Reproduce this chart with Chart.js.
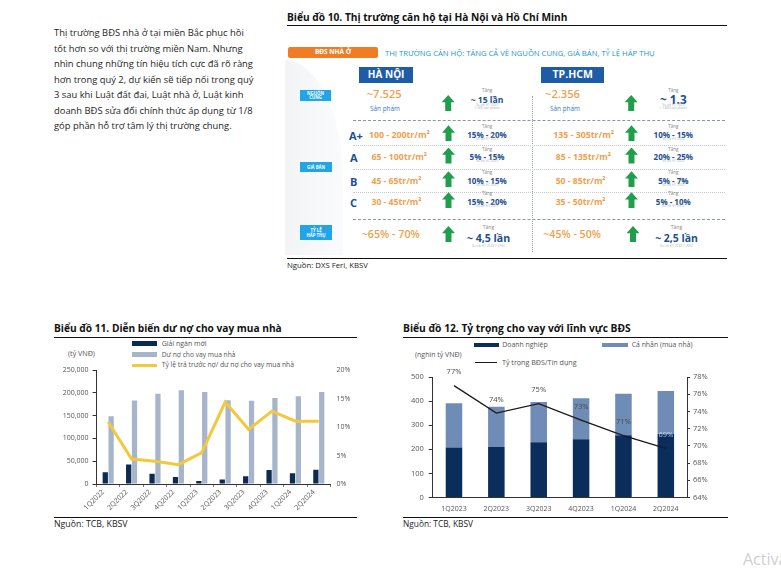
<!DOCTYPE html>
<html><head><meta charset="utf-8">
<script src="https://cdn.jsdelivr.net/npm/chart.js@4.4.1/dist/chart.umd.min.js"></script>
<style>
html,body{margin:0;padding:0;width:781px;height:576px;overflow:hidden;background:#fff;font-family:'Open Sans',sans-serif;color:#222;}
.a,.t,.tc{position:absolute;white-space:nowrap;line-height:1;}
.t{transform:translateY(-50%);}
.tc{transform:translate(-50%,-50%);text-align:center;}
.hr{position:absolute;height:0;}
.box{position:absolute;display:flex;align-items:center;justify-content:center;color:#fff;font-weight:700;text-align:center;line-height:1.05;}
.arrow{position:absolute;width:13px;height:16px;background:#1F9E4B;clip-path:polygon(50% 0,100% 46%,73% 46%,73% 100%,27% 100%,27% 46%,0 46%);}
canvas{position:absolute;}
</style></head>
<body>
<div id="root"></div>
<canvas id="c11" width="310" height="160" style="left:54px;top:360px;width:310px;height:160px"></canvas>
<canvas id="c12" width="320" height="160" style="left:403px;top:360px;width:320px;height:160px"></canvas>
<script>
// ---------- DATA ----------
// Chart 10 (infographic)
const segments = ['A+','A','B','C'];
const hnPrice = ['100 - 200tr/m²','65 - 100tr/m²','45 - 65tr/m²','30 - 45tr/m²'];
const hnPriceUp = ['15% - 20%','5% - 15%','10% - 15%','15% - 20%'];
const hcmPrice = ['135 - 305tr/m²','85 - 135tr/m²','50 - 85tr/m²','35 - 50tr/m²'];
const hcmPriceUp = ['10% - 15%','20% - 25%','5% - 7%','5% - 10%'];
const supply = ['~7.525','~2.356'];
const supplyUp = ['~ 15 lần','~ 1.3'];
const supplyNote = ['(~500 sản phẩm)','(~1.800 sản phẩm)'];
const absorb = ['~65% - 70%','~45% - 50%'];
const absorbUp = ['~ 4,5 lần','~ 2,5 lần'];
const absorbNote = ['So với H1 2023 (~15%)','So với H1 2023 (~20%)'];
// Chart 11
const q11 = ['1Q2022','2Q2022','3Q2022','4Q2022','1Q2023','2Q2023','3Q2023','4Q2023','1Q2024','2Q2024'];
const giaiNganMoi = [25600,43000,22600,15400,6600,10000,17000,30700,23400,31400];
const duNoMuaNha = [149000,183500,198000,206000,202000,184000,183000,189000,193000,202000];
const tyLeTraTruoc = [10.9,4.4,4.0,3.4,5.5,14.4,9.6,12.8,11.05,11.05];
// Chart 12
const q12 = ['1Q2023','2Q2023','3Q2023','4Q2023','1Q2024','2Q2024'];
const doanhNghiep = [207,210,229,242,258,264];
const caNhan = [184,167,167,170,172,178];
const tyTrongBDS = [77.0,73.8,74.9,73.0,71.2,69.7];
const tyTrongLabels = ['77%','74%','75%','73%','71%','69%'];

// ---------- PAGE LAYOUT ----------
const F = "'Open Sans', sans-serif";
const root = document.getElementById('root');
function el(cls, txt, x, y, o){
  o = o||{};
  const d = document.createElement('div');
  d.className = cls; d.textContent = txt;
  d.style.left = x+'px'; d.style.top = y+'px';
  d.style.fontSize = (o.fs||8)+'px';
  if(o.color) d.style.color = o.color;
  if(o.weight) d.style.fontWeight = o.weight;
  if(o.w) d.dataset.w = o.w;
  root.appendChild(d); return d;
}
function hr(x1,x2,y,style){
  const d=document.createElement('div'); d.className='hr';
  d.style.left=x1+'px'; d.style.width=(x2-x1)+'px'; d.style.top=y+'px';
  d.style.borderTop=style||'1px solid #111'; root.appendChild(d); return d;
}
function vr(x,y1,y2,style){
  const d=document.createElement('div'); d.style.position='absolute';
  d.style.left=x+'px'; d.style.top=y1+'px'; d.style.height=(y2-y1)+'px'; d.style.width='0';
  d.style.borderLeft=style; root.appendChild(d);
}
function box(txt,x,y,w,h,bg,fs){
  const d=document.createElement('div'); d.className='box';
  Object.assign(d.style,{left:x+'px',top:y+'px',width:w+'px',height:h+'px',background:bg,fontSize:fs+'px'});
  d.innerHTML=txt; root.appendChild(d); return d;
}
function arrow(x,y){const d=document.createElement('div');d.className='arrow';d.style.left=x+'px';d.style.top=y+'px';root.appendChild(d);}

// body text
const bodyLines = ['Thị trường BĐS nhà ở tại miền Bắc phục hồi','tốt hơn so với thị trường miền Nam. Nhưng','nhìn chung những tín hiệu tích cực đã rõ ràng','hơn trong quý 2, dự kiến sẽ tiếp nối trong quý','3 sau khi Luật đất đai, Luật nhà ở, Luật kinh','doanh BĐS sửa đổi chính thức áp dụng từ 1/8','góp phần hỗ trợ tâm lý thị trường chung.'];
const bodyEls = bodyLines.map((s,i)=>el('t body',s,54,33.3+i*15.45,{fs:10,color:'#1e1e1e'}));
bodyEls[0].dataset.w=190;

// titles and rules
el('t','Biểu đồ 10. Thị trường căn hộ tại Hà Nội và Hồ Chí Minh',287,16.7,{fs:11,weight:700,w:281,color:'#111'});
hr(287,727,25);
hr(287,727,257.5);
el('t','Nguồn: DXS Feri, KBSV',287,266,{fs:8,w:81,color:'#222'});

el('t','Biểu đồ 11. Diễn biến dư nợ cho vay mua nhà',54,328.3,{fs:11,weight:700,w:228,color:'#111'});
hr(54,357,336.5);
hr(54,357,517);
el('t','Nguồn: TCB, KBSV',54,524,{fs:8,w:73.7,color:'#222'});

el('t','Biểu đồ 12. Tỷ trọng cho vay với lĩnh vực BĐS',403,328.3,{fs:11,weight:700,w:228,color:'#111'});
hr(403,728,336.5);
hr(403,728,517);
el('t','Nguồn: TCB, KBSV',403,524,{fs:8,w:70,color:'#222'});

// chart 11 legend
const sw=(x,y,w,h,c)=>{const d=document.createElement('div');Object.assign(d.style,{position:'absolute',left:x+'px',top:y+'px',width:w+'px',height:h+'px',background:c});root.appendChild(d);};
el('t','(tỷ VNĐ)',68,354.3,{fs:7,w:27,color:'#555'});
sw(131.7,340.5,25,5,'#0C2A52'); el('t','Giải ngân mới',161.7,342.7,{fs:7,w:45,color:'#555'});
sw(131.7,352.3,25,4.5,'#A7B5CB'); el('t','Dư nợ cho vay mua nhà',161.7,354.5,{fs:7,w:74,color:'#555'});
sw(131.7,363.5,25,3,'#F3C83A'); el('t','Tỷ lệ trả trước nợ/ dư nợ cho vay mua nhà',161.7,365,{fs:7,w:132.6,color:'#555'});

// chart 12 legend
el('t','(nghìn tỷ VNĐ)',415,354.3,{fs:7,w:46.7,color:'#555'});
sw(474.3,342.7,24.7,4.6,'#0B2D5C'); el('t','Doanh nghiệp',502.3,345,{fs:7,w:45.4,color:'#555'});
sw(602.3,342.7,26,4.6,'#6F8CB6'); el('t','Cá nhân (mua nhà)',631.7,345,{fs:7,w:61,color:'#555'});
sw(475,362,21.7,1.4,'#1b1b1b'); el('t','Tỷ trọng BĐS/Tín dụng',502,362.7,{fs:7,w:74.7,color:'#555'});

// ---------- CHART 10 INFOGRAPHIC ----------
(function(){
  const bg=document.createElement('div');
  Object.assign(bg.style,{position:'absolute',left:'285px',top:'60px',width:'58px',height:'195px',background:'linear-gradient(90deg,#f3f4f6,#fafbfc)',borderTopRightRadius:'58px 120px'});
  root.appendChild(bg);
  const ORANGE='#EF9F4E', NAVY='#1D4F91', BLUE='#22A5E6', NOTE='#a9b0b8';
  box('BĐS NHÀ Ở',288,46.7,90,11.6,'#F07D23',6.5).style.borderRadius='2px';
  el('t','THỊ TRƯỜNG CĂN HỘ: TĂNG CẢ VỀ NGUỒN CUNG, GIÁ BÁN, TỶ LỆ HẤP THỤ',385,54,{fs:6,w:270,color:'#2196D3'});
  box('HÀ NỘI',359,66.7,54.3,16,'#1E5CA8',10);
  box('TP.HCM',541,66.7,63.3,16,'#1E5CA8',10.5);
  box('NGUỒN<br>CUNG',300,90,31,10.7,BLUE,4.3);
  box('GIÁ BÁN',300,161.7,32,10.6,BLUE,4.3);
  box('TỶ LỆ<br>HẤP THỤ',300,225,32,15,BLUE,4.3);
  const cols=[{price:369,arrow:442,inc:487},{price:553,arrow:625,inc:673.3}];
  const valX=[366.7,545];
  // supply row
  for(let k=0;k<2;k++){
    el('t',supply[k],valX[k],94,{fs:11,weight:600,w:35,color:ORANGE});
    el('t','Sản phẩm',valX[k]+(k?5:3.3),109.3,{fs:7,w:30,color:'#3C78C0'});
    arrow(cols[k].arrow-0.3,95);
    el('tc','Tăng',cols[k].inc,90,{fs:4.5,color:'#888'});
    el('tc',supplyUp[k],cols[k].inc,99.5,{fs:10,weight:700,w:k?26.7:32.7,color:NAVY});
    el('tc','So với H1 2023',cols[k].inc,106,{fs:3.2,color:NOTE});
    el('tc',supplyNote[k],cols[k].inc,109.3,{fs:3.2,color:NOTE});
  }
  hr(353,725,120,'1px dashed #8a97a6');
  vr(531.7,96,252,'1px dotted #9aa6b4');
  const rowY=[134.8,157,180.7,201.7];
  const pw=[[61,55.7,50,50],[61,55.3,50,50]];
  for(let i=0;i<4;i++){
    const y=rowY[i];
    el('t',segments[i],i?350:349,y,{fs:11,weight:700,color:NAVY});
    el('t',hnPrice[i],i?371.5:369,y,{fs:9,weight:700,w:pw[0][i],color:ORANGE});
    el('t',hcmPrice[i],i?555.7:553.3,y,{fs:9,weight:700,w:pw[1][i],color:ORANGE});
    const ups=[hnPriceUp,hcmPriceUp];
    for(let k=0;k<2;k++){
      arrow(cols[k].arrow,y-9.5);
      el('tc','Tăng',cols[k].inc,y-8.5,{fs:4.5,color:'#888'});
      el('tc',ups[k][i],cols[k].inc,y-0.2,{fs:8,weight:700,color:NAVY});
      el('tc','So với H1 2023',cols[k].inc,y+5.4,{fs:3.2,color:NOTE});
    }
    if(i<3) hr(353,725,[145,169.3,191.7][i],'1px dotted #c2c9d2');
  }
  hr(353,725,219.3,'1px dashed #8a97a6');
  const ax=[361.7,543.3], aw=[58.3,57.7], upx=[488.5,676.5], upw=[43.3,42.7];
  for(let k=0;k<2;k++){
    el('t',absorb[k],ax[k],234.3,{fs:11,weight:600,w:aw[k],color:ORANGE});
    arrow(cols[k].arrow+(k?1.5:0),226);
    el('tc','Tăng',upx[k],227.3,{fs:5,color:'#888'});
    el('tc',absorbUp[k],upx[k],237.7,{fs:11,weight:700,w:upw[k],color:NAVY});
    el('tc',absorbNote[k],upx[k],246.7,{fs:3.2,color:NOTE});
  }
})();

// watermark
el('a','Activate Windows',743,551,{fs:16,color:'#cfcfcf'});

// ---------- FIT TEXT WIDTHS ----------
document.querySelectorAll('[data-w]').forEach(d=>{
  const w=parseFloat(d.dataset.w), fs=parseFloat(d.style.fontSize);
  const cw=d.getBoundingClientRect().width;
  if(cw>0) d.style.fontSize=(fs*w/cw)+'px';
});
bodyEls.forEach(d=>d.style.fontSize=bodyEls[0].style.fontSize);

// ---------- CHARTS ----------
const tickFont={family:F,size:7};
new Chart(document.getElementById('c11'),{
  type:'bar',
  data:{labels:q11,datasets:[
    {type:'line',label:'Tỷ lệ trả trước nợ/ dư nợ cho vay mua nhà',data:tyLeTraTruoc,yAxisID:'y1',borderColor:'#F3C83A',borderWidth:3,pointRadius:0,tension:0,fill:false,order:0},
    {label:'Giải ngân mới',data:giaiNganMoi,backgroundColor:'#0C2A52',yAxisID:'y',order:1,categoryPercentage:0.5,barPercentage:0.9},
    {label:'Dư nợ cho vay mua nhà',data:duNoMuaNha,backgroundColor:'#A7B5CB',yAxisID:'y',order:1,categoryPercentage:0.5,barPercentage:0.9}
  ]},
  options:{responsive:false,animation:false,devicePixelRatio:1,
    layout:{padding:{top:10,left:0,right:0,bottom:0}},
    plugins:{legend:{display:false},tooltip:{enabled:false}},
    scales:{
      x:{grid:{display:true,drawOnChartArea:false,tickLength:3,color:'#777'},border:{color:'#333'},
         ticks:{font:tickFont,color:'#555',minRotation:45,maxRotation:45,padding:1,labelOffset:-5,autoSkip:false},
         afterFit:s=>{s.height=36;}},
      y:{position:'left',min:0,max:250000,
         ticks:{stepSize:50000,font:tickFont,color:'#555',padding:4,callback:v=>v.toLocaleString('en-US')},
         grid:{drawOnChartArea:false,tickLength:4,color:'#333'},border:{color:'#333'},
         afterFit:s=>{s.width=42.5;}},
      y1:{position:'right',min:0,max:20,
         ticks:{stepSize:5,font:tickFont,color:'#555',padding:6,callback:v=>v+'%'},
         grid:{display:false,drawTicks:false},border:{display:false},
         afterFit:s=>{s.width=33.5;}}
    }}
});

const pointLabels={id:'pointLabels',afterDatasetsDraw(chart){
  const ctx=chart.ctx, line=chart.getDatasetMeta(0), bars=chart.getDatasetMeta(1);
  ctx.save(); ctx.font="7.5px "+F; ctx.textAlign='center'; ctx.textBaseline='middle';
  line.data.forEach((p,i)=>{
    const y=p.y-13.5;
    ctx.fillStyle = y>bars.data[i].y ? 'rgba(235,240,248,0.8)' : '#4a4a4a';
    ctx.fillText(tyTrongLabels[i],p.x,y);
  });
  ctx.restore();
}};
new Chart(document.getElementById('c12'),{
  type:'bar',
  data:{labels:q12,datasets:[
    {type:'line',label:'Tỷ trọng BĐS/Tín dụng',data:tyTrongBDS,yAxisID:'y1',borderColor:'#1b1b1b',borderWidth:1.3,pointRadius:0,tension:0,fill:false,order:0},
    {label:'Doanh nghiệp',data:doanhNghiep,backgroundColor:'#0B2D5C',yAxisID:'y',stack:'s',order:1,categoryPercentage:1,barPercentage:0.39},
    {label:'Cá nhân (mua nhà)',data:caNhan,backgroundColor:'#6F8CB6',yAxisID:'y',stack:'s',order:1,categoryPercentage:1,barPercentage:0.39}
  ]},
  options:{responsive:false,animation:false,devicePixelRatio:1,
    layout:{padding:{top:17,left:0,right:0,bottom:0}},
    plugins:{legend:{display:false},tooltip:{enabled:false}},
    scales:{
      x:{stacked:true,grid:{display:true,drawOnChartArea:false,drawTicks:false},border:{color:'#333'},
         ticks:{font:tickFont,color:'#555',maxRotation:0,padding:7,autoSkip:false},
         afterFit:s=>{s.height=22.5;}},
      y:{stacked:true,position:'left',min:0,max:500,
         ticks:{stepSize:100,font:{family:F,size:7.5},color:'#555',padding:5},
         grid:{drawOnChartArea:false,tickLength:4,color:'#333'},border:{color:'#333'},
         afterFit:s=>{s.width=29.8;}},
      y1:{position:'right',min:64,max:78,
         ticks:{stepSize:2,font:{family:F,size:7.5},color:'#555',padding:3,callback:v=>v+'%'},
         grid:{drawOnChartArea:false,tickLength:3,color:'#333'},border:{color:'#333'},
         afterFit:s=>{s.width=36;}}
    }},
  plugins:[pointLabels]
});
</script>
</body></html>
